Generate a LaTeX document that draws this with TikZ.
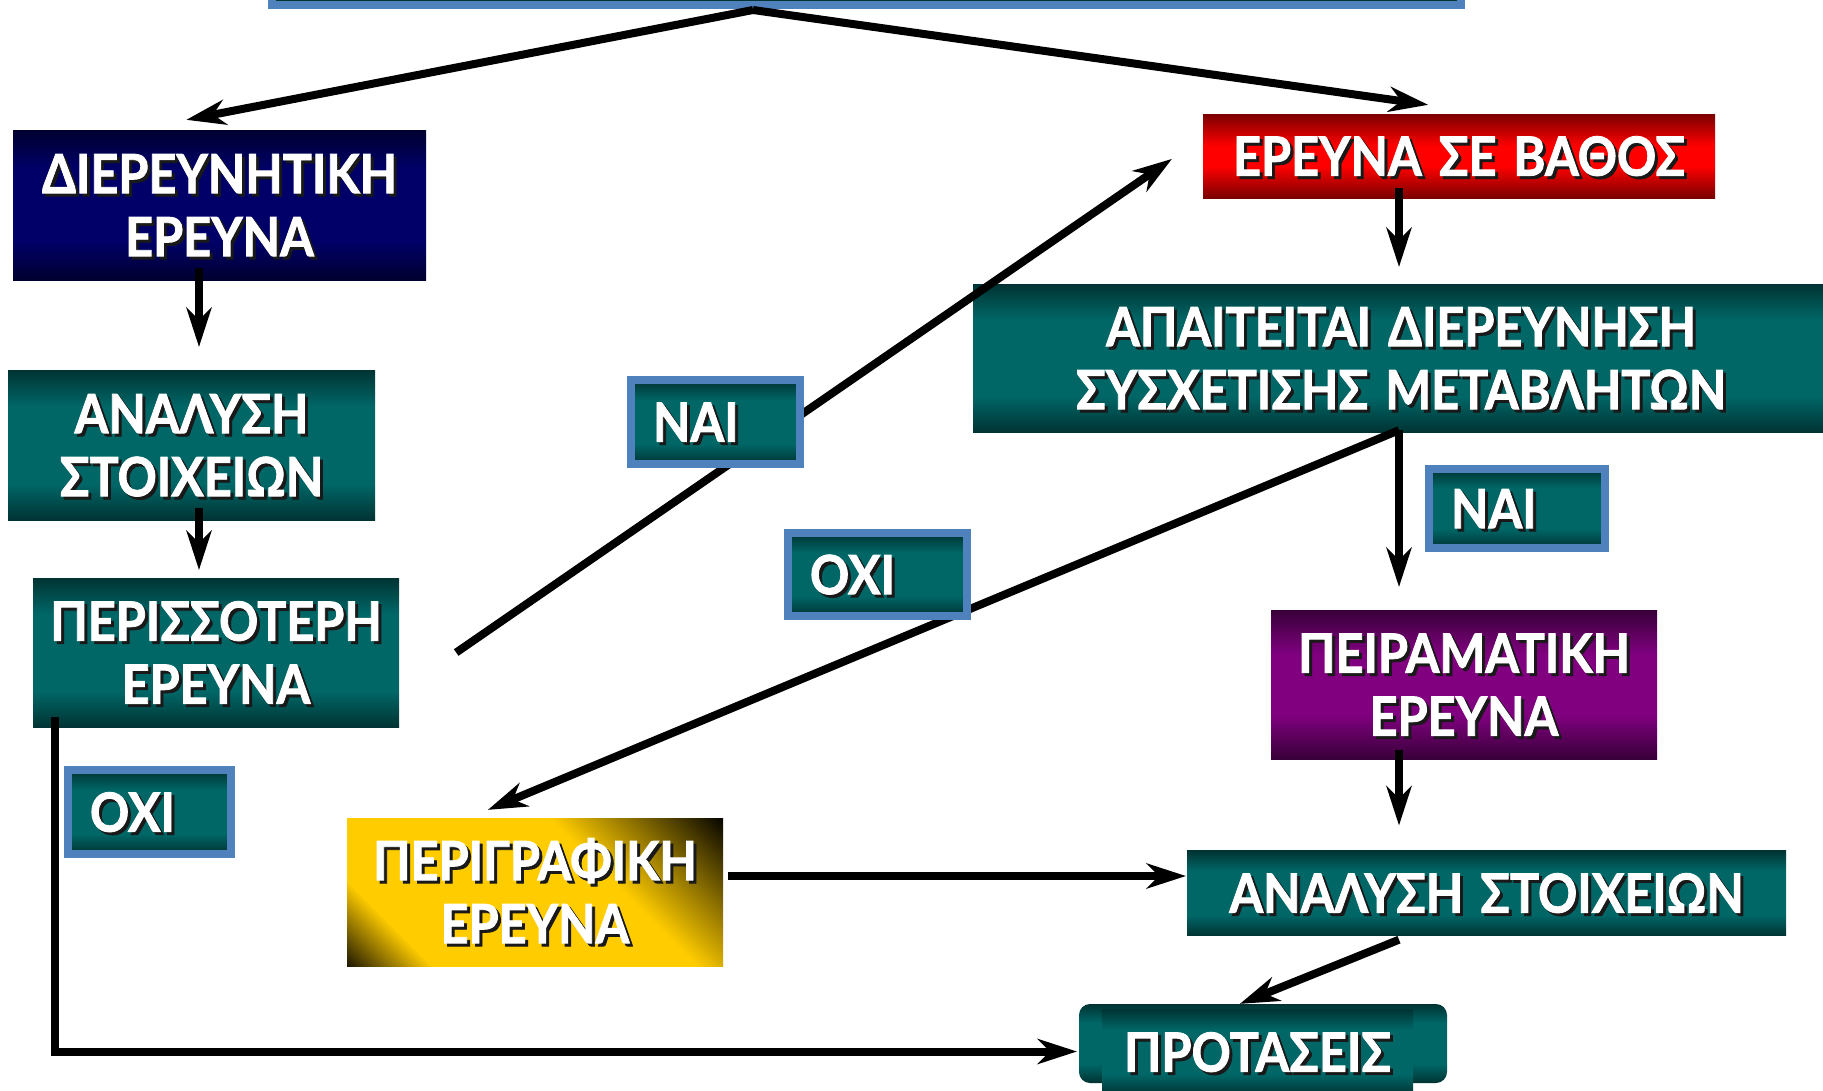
\documentclass[tikz,border=0pt]{standalone}
\usepackage{fontspec}
\usetikzlibrary{arrows.meta,calc}
\newfontfamily\boxfont{Lato}[FakeStretch=0.9,FakeBold=1.5]

\definecolor{tealD}{RGB}{0,51,51}
\definecolor{tealM}{RGB}{0,102,102}
\definecolor{navyD}{RGB}{0,0,48}
\definecolor{navyM}{RGB}{0,0,104}
\definecolor{redD}{RGB}{122,0,0}
\definecolor{redM}{RGB}{255,0,0}
\definecolor{purD}{RGB}{56,0,56}
\definecolor{purM}{RGB}{128,0,128}
\definecolor{goldM}{RGB}{255,204,0}
\definecolor{tagblue}{RGB}{79,129,189}

\pgfdeclareverticalshading{tealsh}{100bp}{color(0bp)=(tealD); color(25bp)=(tealD); color(37bp)=(tealM); color(63bp)=(tealM); color(75bp)=(tealD); color(100bp)=(tealD)}
\pgfdeclareverticalshading{navysh}{100bp}{color(0bp)=(navyD); color(25bp)=(navyD); color(38bp)=(navyM); color(62bp)=(navyM); color(75bp)=(navyD); color(100bp)=(navyD)}
\pgfdeclareverticalshading{redsh}{100bp}{color(0bp)=(redD); color(25bp)=(redD); color(44bp)=(redM); color(56bp)=(redM); color(75bp)=(redD); color(100bp)=(redD)}
\pgfdeclareverticalshading{pursh}{100bp}{color(0bp)=(purD); color(25bp)=(purD); color(40bp)=(purM); color(60bp)=(purM); color(75bp)=(purD); color(100bp)=(purD)}
\pgfdeclareverticalshading{goldsh}{100bp}{color(0bp)=(black); color(13bp)=(black); color(26bp)=(goldM); color(62bp)=(goldM); color(86bp)=(black); color(100bp)=(black)}

% white text with a dark drop shadow, lowered so the capitals sit centred
\newcommand\shtext[1]{\raisebox{-7pt}[\height][\depth]{%
  \rlap{\kern3pt\raisebox{-3pt}[0pt][0pt]{\color{black!90}\begin{tabular}{@{}c@{}}#1\end{tabular}}}%
  \begin{tabular}{@{}c@{}}#1\end{tabular}}}

\newcommand\boxtype{\boxfont\bfseries\fontsize{54}{63}\selectfont\spaceskip=17pt\relax}

\tikzset{
  box/.style={rectangle, inner sep=0pt, text=white, shade, font=\boxtype},
  tag/.style={rectangle, draw=tagblue, line width=8pt, shade, shading=tealsh,
    inner xsep=22pt, inner ysep=0pt, text=white, align=left, font=\boxtype},
  arr/.style={line width=8pt, draw=black,
    -{Stealth[length=40pt,width=26pt,inset=13pt,line width=0pt]}},
  polyarr/.style={arr, line join=miter}
}

\begin{document}
\begin{tikzpicture}[x=1pt,y=-1pt]
\useasboundingbox (0,0) rectangle (1823,1090);

% heading panel, cut by the upper edge
\node[rectangle, draw=tagblue, line width=8pt, fill=tealD,
  minimum width=1189, minimum height=102] (topbar) at (866.5,-46.5) {};

% boxes
\node[box, shading=navysh, minimum width=413, minimum height=150] (dier) at (219.5,205)
  {\shtext{ΔΙΕΡΕΥΝΗΤΙΚΗ\\ΕΡΕΥΝΑ}};
\node[box, shading=tealsh, minimum width=367, minimum height=150] (anal1) at (191.5,445)
  {\shtext{ΑΝΑΛΥΣΗ\\ΣΤΟΙΧΕΙΩΝ}};
\node[box, shading=tealsh, minimum width=366, minimum height=149] (peris) at (216,652.5)
  {\shtext{ΠΕΡΙΣΣΟΤΕΡΗ\\ΕΡΕΥΝΑ}};
\node[box, shading=redsh, minimum width=512, minimum height=84] (bathos) at (1459,156)
  {\shtext{ΕΡΕΥΝΑ ΣΕ ΒΑΘΟΣ}};
\node[box, shading=tealsh, minimum width=856, minimum height=148] (apait) at (1401,358)
  {\shtext{ΑΠΑΙΤΕΙΤΑΙ ΔΙΕΡΕΥΝΗΣΗ\\ΣΥΣΧΕΤΙΣΗΣ ΜΕΤΑΒΛΗΤΩΝ}};
\node[box, shading=pursh, minimum width=386, minimum height=149] (peir) at (1464,684.5)
  {\shtext{ΠΕΙΡΑΜΑΤΙΚΗ\\ΕΡΕΥΝΑ}};
\node[box, shading=tealsh, minimum width=599, minimum height=85] (anal2) at (1486.5,893)
  {\shtext{ΑΝΑΛΥΣΗ ΣΤΟΙΧΕΙΩΝ}};
\node[box, shading=goldsh, shading angle=-45, minimum width=376, minimum height=148] (perig) at (535,892)
  {\shtext{ΠΕΡΙΓΡΑΦΙΚΗ\\ΕΡΕΥΝΑ}};

% scroll-like conclusion box: rounded back plate and a front plate
\node[rectangle, shade, shading=tealsh, rounded corners=11pt,
  minimum width=368, minimum height=79] (protback) at (1263,1043.5) {};
\node[box, shading=tealsh, minimum width=311, minimum height=86] (prot) at (1257.5,1052)
  {\shtext{ΠΡΟΤΑΣΕΙΣ}};

% connectors
\coordinate (apex) at (753,10);
\coordinate (colL) at (199,0);
\coordinate (colR) at (1399,0);

\draw[arr] (apex) -- ($(dier.north)+(-33,-10)$);
\draw[arr] (apex) -- ($(bathos.north)+(-31,-9)$);

\draw[arr] ($(dier.south -| colL)+(0,-12)$) -- ($(anal1.north -| colL)+(0,-23)$);
\draw[arr] ($(anal1.south -| colL)+(0,-12)$) -- ($(peris.north -| colL)+(0,-8)$);
\draw[polyarr] ($(peris.south west)+(22,-10)$) |- ($(protback.west)+(-2,8)$);
\draw[arr] ($(peris.east)+(57,0)$) -- ($(bathos.west)+(-31,3)$);

\draw[arr] ($(bathos.south -| colR)+(0,-10)$) -- ($(apait.north -| colR)+(0,-17)$);
\draw[arr] ($(apait.south -| colR)+(0,-2)$) -- ($(peir.north -| colR)+(0,-23)$);
\draw[arr] ($(apait.south -| colR)+(0,-2)$) -- ($(perig.north)+(-47,-8)$);
\draw[arr] ($(peir.south -| colR)+(0,-9)$) -- ($(anal2.north -| colR)+(0,-25)$);
\draw[arr] ($(anal2.south -| colR)+(0,4)$) -- ($(protback.north)+(-23,0)$);
\draw[arr] ($(perig.east)+(5,-16)$) -- ($(anal2.west)+(-1,-17)$);

% answer tags
\node[tag, text width=125, minimum height=84] (nai1) at (715.5,422) {\shtext{ΝΑΙ}};
\node[tag, text width=135, minimum height=83] (oxi2) at (877.5,574.5) {\shtext{ΟΧΙ}};
\node[tag, text width=132, minimum height=79] (nai2) at (1517,508.5) {\shtext{ΝΑΙ}};
\node[tag, text width=119, minimum height=84] (oxi1) at (149.5,812) {\shtext{ΟΧΙ}};
\end{tikzpicture}
\end{document}
